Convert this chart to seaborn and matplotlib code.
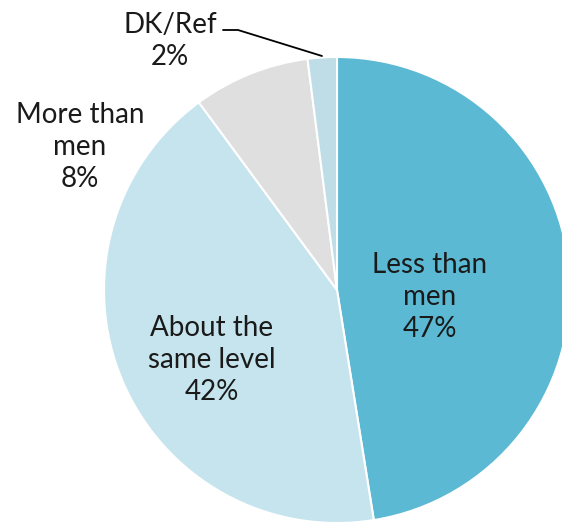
import matplotlib
matplotlib.use("Agg")
import matplotlib.pyplot as plt
import seaborn as sns

categories = ["Less than men", "About the same level", "More than men", "DK/Ref"]
percents = [47, 42, 8, 2]
label_texts = ["Less than\nmen\n47%", "About the\nsame level\n42%", "More than\nmen\n8%", "DK/Ref\n2%"]
colors = ["#5bb9d3", "#c5e4ed", "#dfdfdf", "#bfdde7"]

sns.set_theme(style="white")
plt.rcParams['font.family'] = ['Lato', 'DejaVu Sans']

W, H = 562, 523
cx, cy, r = 337, 290, 233  # pie centre / radius in pixels

fig = plt.figure(figsize=(W / 100, H / 100), dpi=100)
ax = fig.add_axes([(cx - r) / W, (H - cy - r) / H, 2 * r / W, 2 * r / H])

wedges, _ = ax.pie(percents, colors=sns.color_palette(colors), startangle=90,
                   counterclock=False, radius=1,
                   wedgeprops=dict(edgecolor="white", linewidth=1.5))
for w in wedges:
    w.set_clip_on(False)
ax.set_xlim(-1, 1)
ax.set_ylim(-1, 1)
ax.set_aspect("equal")
ax.axis("off")


def px(x, y):
    return (x - cx) / r, (cy - y) / r


label_pos = [(430, 297), (212, 360), (80, 147), (170, 41)]
for txt, (x, y) in zip(label_texts, label_pos):
    ax.text(*px(x, y), txt, ha="center", va="center", fontsize=20,
            color="#1a1a1a", linespacing=1.3, clip_on=False)

# leader line for DK/Ref
lx = [px(223, 30)[0], px(238, 30)[0], px(322, 56)[0]]
ly = [px(223, 30)[1], px(238, 30)[1], px(322, 56)[1]]
ax.plot(lx, ly, color="black", linewidth=1.3, clip_on=False)

fig.savefig("out.png", dpi=100)
